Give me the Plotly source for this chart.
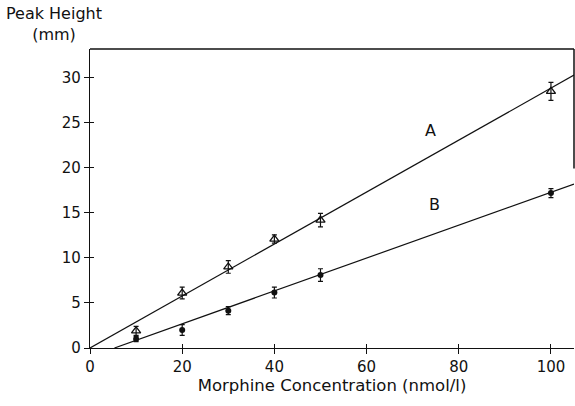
import plotly.graph_objects as go

# ---- data ----
conc = [10, 20, 30, 40, 50, 100]
peak_a = [1.9, 6.1, 9.0, 12.1, 14.2, 28.5]
err_a = [0.5, 0.65, 0.7, 0.45, 0.75, 1.0]
peak_b = [1.0, 2.0, 4.15, 6.15, 8.1, 17.2]
err_b = [0.3, 0.6, 0.45, 0.6, 0.7, 0.5]

fit_a_x = [0, 105]
fit_a_y = [0, 30.3]
fit_b_x = [5.3, 105]
fit_b_y = [0, 18.2]

x_ticks = [0, 20, 40, 60, 80, 100]
y_ticks = [0, 5, 10, 15, 20, 25, 30]
x_range = [0, 105]
y_range = [0, 33.2]

FONT = "DejaVu Sans"
BLACK = "#111111"

L, R, T, B = 90, 1, 49, 58
W, H = 575, 406
PW, PH = W - L - R, H - T - B

fig = go.Figure()

fig.add_trace(go.Scatter(x=fit_a_x, y=fit_a_y, mode="lines",
                         line=dict(color=BLACK, width=1.2), showlegend=False))
fig.add_trace(go.Scatter(x=fit_b_x, y=fit_b_y, mode="lines",
                         line=dict(color=BLACK, width=1.2), showlegend=False))

fig.add_trace(go.Scatter(
    x=conc, y=peak_a, mode="markers",
    marker=dict(symbol="triangle-up-open", size=8, color=BLACK, line=dict(width=1.3)),
    error_y=dict(type="data", array=err_a, visible=True, color=BLACK, thickness=1.2, width=2.5),
    showlegend=False))
fig.add_trace(go.Scatter(
    x=conc, y=peak_b, mode="markers",
    marker=dict(symbol="circle", size=6, color=BLACK),
    error_y=dict(type="data", array=err_b, visible=True, color=BLACK, thickness=1.2, width=2.5),
    showlegend=False))

# overlay axes to create cross ticks (inside part)
fig.add_trace(go.Scatter(x=[None], y=[None], xaxis="x2", yaxis="y2", showlegend=False))

axis_common = dict(showgrid=False, zeroline=False, showline=True, linecolor=BLACK, linewidth=1.3,
                   tickcolor=BLACK, tickwidth=1.2, ticklen=5,
                   tickfont=dict(family=FONT, size=15, color=BLACK))

fig.update_layout(
    width=W, height=H,
    margin=dict(l=L, r=R, t=T, b=B),
    paper_bgcolor="white", plot_bgcolor="white",
    font=dict(family=FONT, color=BLACK),
    xaxis=dict(range=x_range, tickvals=x_ticks, ticks="outside", mirror=False,
               title=dict(text="Morphine Concentration (nmol/l)",
                          font=dict(family=FONT, size=16.5, color=BLACK), standoff=4),
               **axis_common),
    yaxis=dict(range=y_range, tickvals=y_ticks, ticks="outside", **axis_common),
    xaxis2=dict(range=x_range, tickvals=x_ticks, ticks="inside", overlaying="x", side="bottom",
                showticklabels=False, showgrid=False, zeroline=False, showline=False,
                tickcolor=BLACK, tickwidth=1.2, ticklen=4),
    yaxis2=dict(range=y_range, tickvals=y_ticks, ticks="inside", overlaying="y", side="left",
                showticklabels=False, showgrid=False, zeroline=False, showline=False,
                tickcolor=BLACK, tickwidth=1.2, ticklen=4),
    shapes=[
        dict(type="line", xref="x domain", yref="y domain", x0=0, x1=1, y0=1, y1=1,
             line=dict(color=BLACK, width=1.3)),
        dict(type="line", xref="x domain", yref="y domain", x0=1, x1=1, y0=1, y1=0.6,
             line=dict(color=BLACK, width=1.5)),
    ],
    annotations=[
        dict(text="Peak Height<br>(mm)", xref="paper", yref="paper",
             x=(54 - L) / PW, y=(H - B - 2) / PH,
             xanchor="center", yanchor="top", showarrow=False, align="center",
             font=dict(family=FONT, size=16, color=BLACK)),
        dict(text="A", x=73.8, y=24.1, xref="x", yref="y", showarrow=False,
             font=dict(family=FONT, size=16, color=BLACK)),
        dict(text="B", x=74.7, y=15.9, xref="x", yref="y", showarrow=False,
             font=dict(family=FONT, size=16, color=BLACK)),
    ],
)

fig.write_html("out.html")
